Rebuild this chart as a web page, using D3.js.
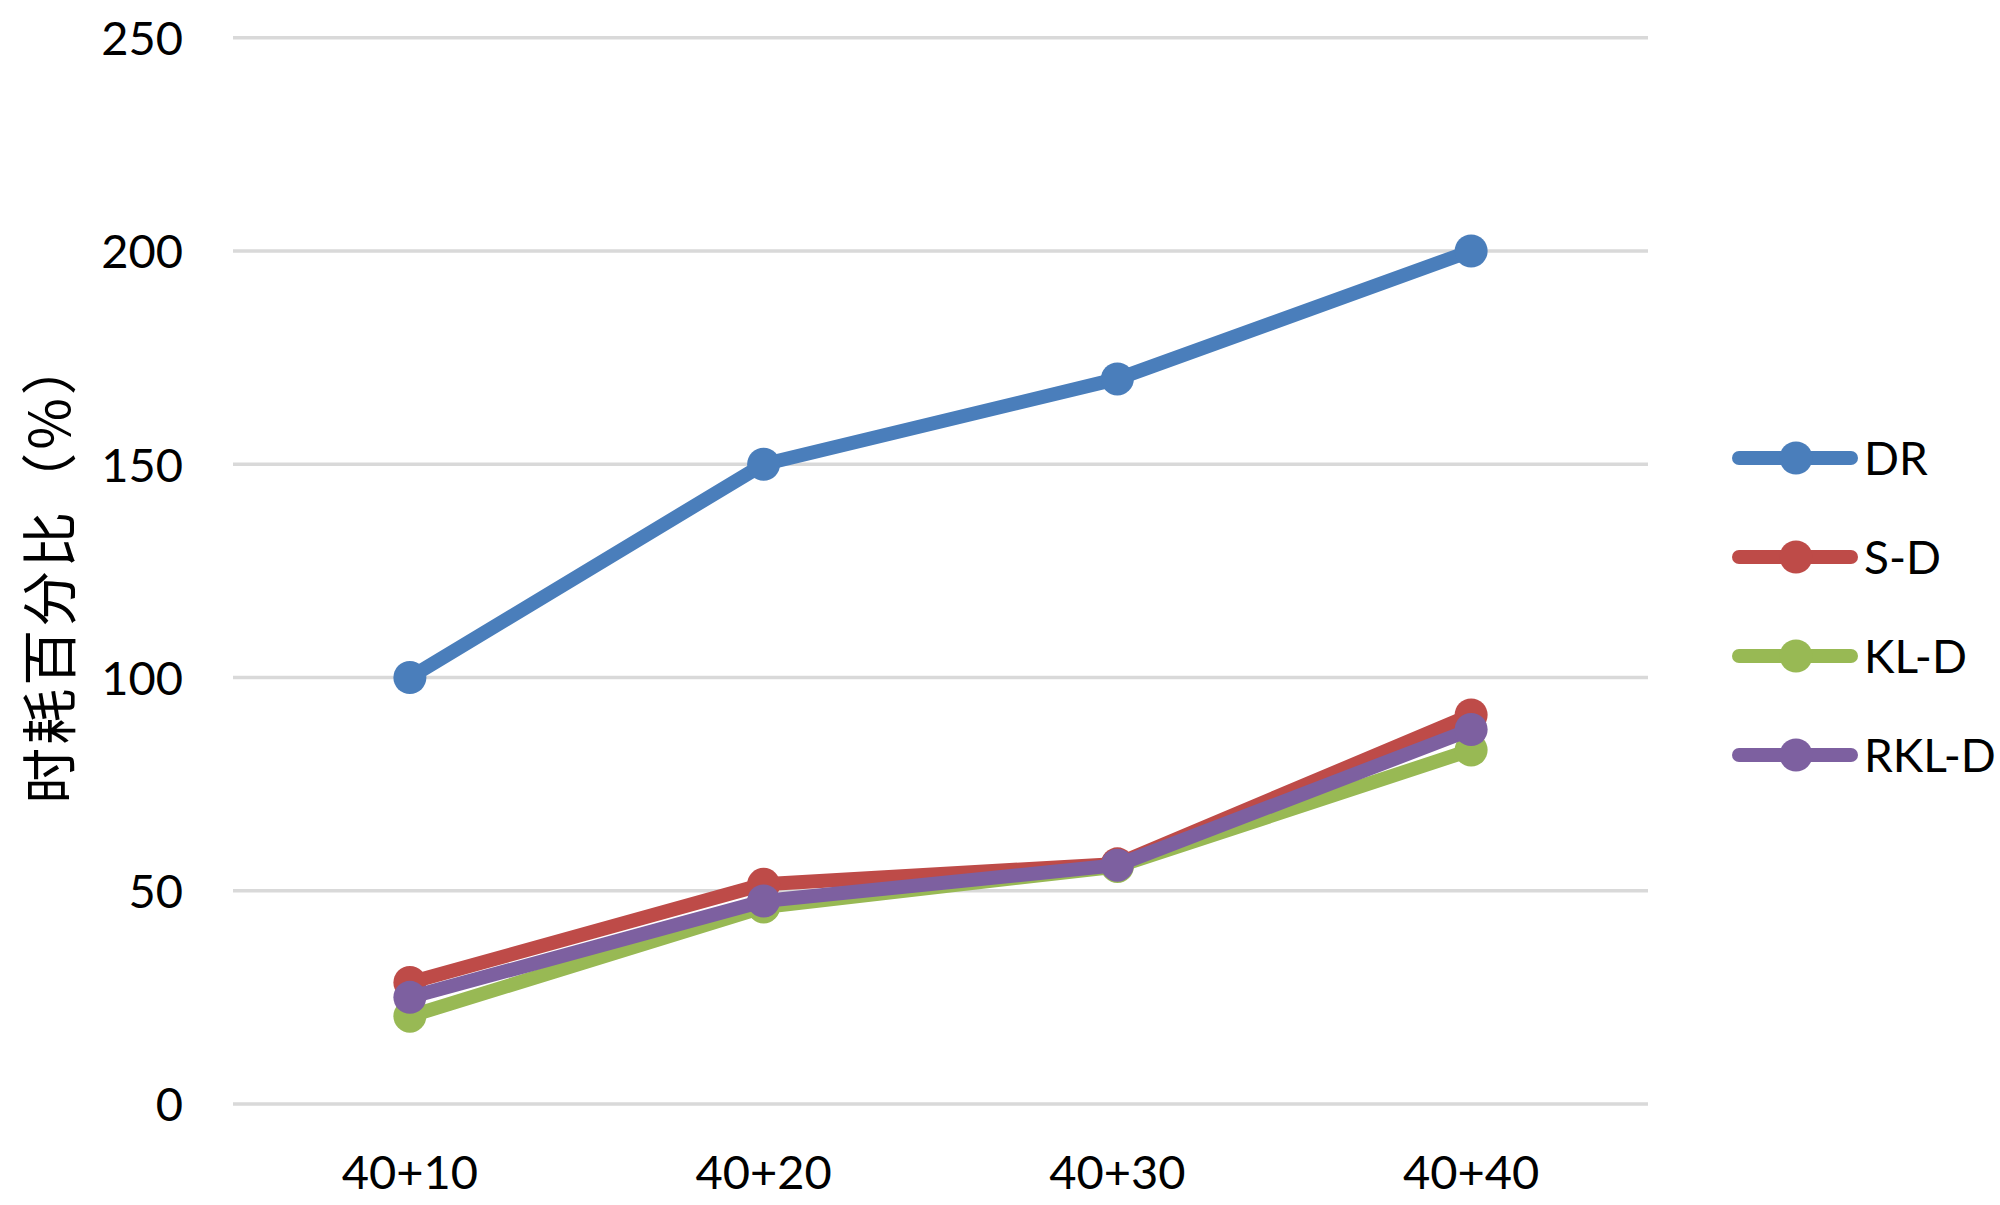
<!DOCTYPE html>
<html>
<head>
<meta charset="utf-8">
<script src="https://cdn.jsdelivr.net/npm/d3@7/dist/d3.min.js"></script>
<style>
html,body{margin:0;padding:0;background:#fff;}
svg{display:block;}
</style>
</head>
<body>
<svg id="chart" width="2000" height="1205"></svg>
<script>
const categories = ["40+10", "40+20", "40+30", "40+40"];
const seriesNames = ["DR", "S-D", "KL-D", "RKL-D"];
const seriesColors = ["#4A7EBB", "#BE4B48", "#98B954", "#7D60A0"];
const valuesDR = [100, 150, 170, 200];
const valuesSD = [28.5, 51.5, 56.3, 91.2];
const valuesKLD = [20.6, 46.2, 55.7, 83];
const valuesRKLD = [25, 47.6, 56, 87.8];
const yTicks = [0, 50, 100, 150, 200, 250];
const yTitle = "时耗百分比（%）";

const seriesValues = [valuesDR, valuesSD, valuesKLD, valuesRKLD];
const series = seriesNames.map((n, i) => ({name: n, color: seriesColors[i], values: seriesValues[i]}));

const svg = d3.select("#chart");
const plotLeft = 233, plotRight = 1648, plotTop = 37.7, plotBottom = 1104;

const x = d3.scaleBand().domain(categories).range([plotLeft, plotRight]).padding(0);
const xc = c => x(c) + x.bandwidth() / 2;
const y = d3.scaleLinear().domain([0, 250]).range([plotBottom, plotTop]);

const font = "Lato, 'Open Sans', sans-serif";

// gridlines
svg.append("g").selectAll("line").data(yTicks).join("line")
  .attr("x1", plotLeft).attr("x2", plotRight)
  .attr("y1", d => y(d)).attr("y2", d => y(d))
  .attr("stroke", "#D9D9D9").attr("stroke-width", 3.5);

// y axis labels
const yAxis = d3.axisLeft(y).tickValues(yTicks).tickSize(0).tickPadding(0);
const gy = svg.append("g").attr("transform", `translate(183,0)`).call(yAxis);
gy.select(".domain").remove();
gy.selectAll("text").attr("font-family", font).attr("font-size", 47).attr("fill", "#000").attr("dy", "0.36em");

// x axis labels
const xAxis = d3.axisBottom(x).tickSize(0).tickPadding(0);
const gx = svg.append("g").attr("transform", `translate(0,1172)`).call(xAxis);
gx.select(".domain").remove();
gx.selectAll("text").attr("font-family", font).attr("font-size", 47).attr("fill", "#000").attr("dy", "0.36em");

// y title
svg.append("text")
  .attr("transform", "translate(70,570) rotate(-90)")
  .attr("text-anchor", "middle")
  .attr("font-family", "'Noto Sans CJK SC', sans-serif")
  .attr("font-size", 56)
  .attr("letter-spacing", 3)
  .attr("fill", "#000")
  .text(yTitle);

// lines
const line = d3.line().x((d, i) => xc(categories[i])).y(d => y(d));
const gs = svg.append("g").selectAll("g").data(series).join("g");
gs.append("path")
  .attr("d", d => line(d.values))
  .attr("fill", "none")
  .attr("stroke", d => d.color)
  .attr("stroke-width", 14)
  .attr("stroke-linejoin", "round")
  .attr("stroke-linecap", "round");
gs.each(function(s) {
  d3.select(this).selectAll("circle").data(s.values).join("circle")
    .attr("cx", (d, i) => xc(categories[i]))
    .attr("cy", d => y(d))
    .attr("r", 16.5)
    .attr("fill", s.color);
});

// legend
const legendY = d3.scalePoint().domain(seriesNames).range([458, 755]);
const lg = svg.append("g").selectAll("g").data(series).join("g")
  .attr("transform", d => `translate(0,${legendY(d.name)})`);
lg.append("line").attr("x1", 1739).attr("x2", 1851).attr("y1", 0).attr("y2", 0)
  .attr("stroke", d => d.color).attr("stroke-width", 14).attr("stroke-linecap", "round");
lg.append("circle").attr("cx", 1796).attr("cy", 0).attr("r", 16.5).attr("fill", d => d.color);
lg.append("text").attr("x", 1864).attr("y", 0).attr("dy", "0.36em")
  .attr("font-family", font).attr("font-size", 46).attr("fill", "#000")
  .text(d => d.name);
</script>
</body>
</html>
